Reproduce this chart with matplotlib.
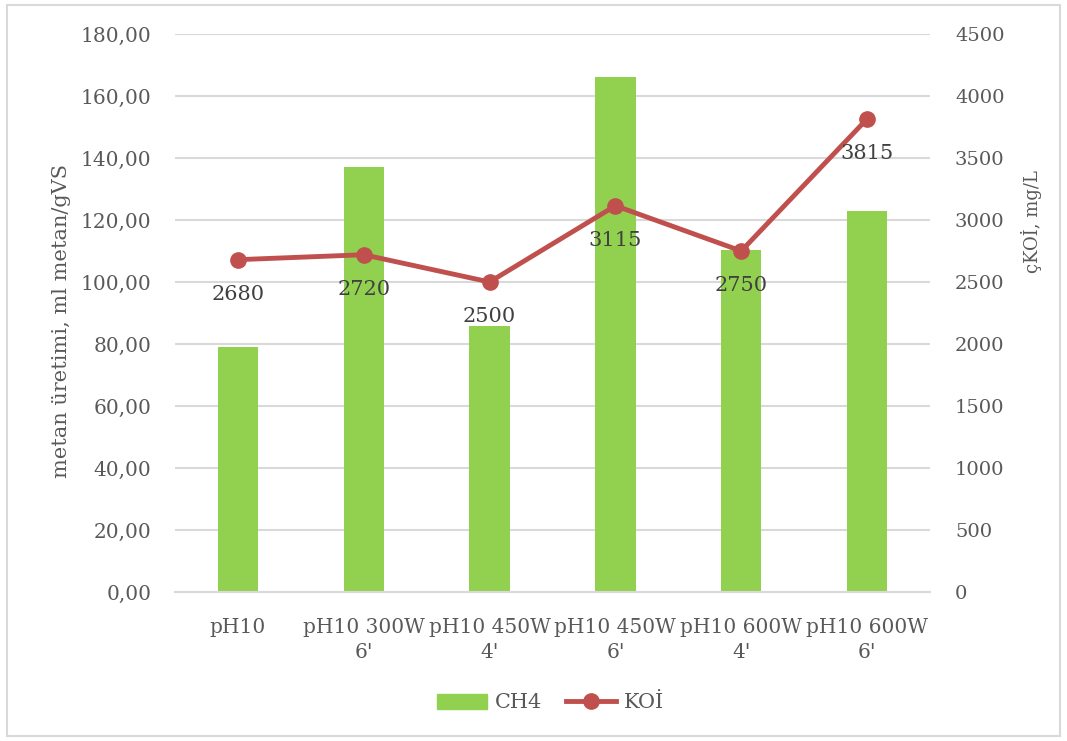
import numpy as np
import matplotlib.pyplot as plt
from matplotlib.lines import Line2D
from matplotlib.patches import Patch

categories = ["pH10", "pH10 300W\n6'", "pH10 450W\n4'", "pH10 450W\n6'", "pH10 600W\n4'", "pH10 600W\n6'"]
ch4 = [79.0, 137.2, 85.8, 166.0, 110.3, 123.0]
koi = [2680, 2720, 2500, 3115, 2750, 3815]

bar_color = '#92D050'
line_color = '#C0504D'
text_color = '#595959'
grid_color = '#D9D9D9'

plt.rcParams['font.family'] = ['DejaVu Serif']

fig = plt.figure(figsize=(10.67, 7.41), dpi=100)
ax = fig.add_axes([175 / 1067, 1 - 592 / 741, 755 / 1067, 558 / 741])
ax2 = ax.twinx()

x = np.arange(len(categories))
ax.bar(x, ch4, width=0.32, color=bar_color, zorder=2)
ax.set_xlim(-0.5, len(categories) - 0.5)
ax.set_ylim(0, 180)
ax.set_yticks(np.arange(0, 181, 20))
ax.set_yticklabels([f"{v:.2f}".replace('.', ',') for v in np.arange(0, 181, 20)])
ax.yaxis.grid(True, color=grid_color, linewidth=1.5, zorder=0)
ax.set_axisbelow(True)
ax.set_xticks(x)
ax.set_xticklabels(categories, linespacing=1.4)
ax.set_ylabel('metan üretimi, ml metan/gVS', fontsize=15, color=text_color)
ax.yaxis.set_label_coords(-0.138, 0.485)

ax2.plot(x, koi, color=line_color, linewidth=3.5, marker='o', markersize=11, zorder=3)
ax2.set_ylim(0, 4500)
ax2.set_yticks(np.arange(0, 4501, 500))
ax2.set_ylabel('çKOİ, mg/L', fontsize=13, color=text_color, rotation=90)
ax2.yaxis.set_label_coords(1.12, 0.663)
for xi, v in zip(x, koi):
    ax2.annotate(str(v), (xi, v), xytext=(0, -25), textcoords='offset points',
                 ha='center', va='center', fontsize=15, color='#404040')

for a in (ax, ax2):
    for s in a.spines.values():
        s.set_visible(False)
    a.tick_params(length=0, labelsize=14.5, colors=text_color)
ax.spines['bottom'].set_visible(True)
ax.spines['bottom'].set_color(grid_color)
ax.spines['bottom'].set_linewidth(1.5)
ax.tick_params(axis='x', pad=19)
ax.tick_params(axis='y', pad=17)
ax2.tick_params(axis='y', pad=18, labelsize=14)

handles = [Patch(color=bar_color, label='CH4'),
           Line2D([0], [0], color=line_color, linewidth=3.5, marker='o', markersize=11, label='KOİ')]
fig.legend(handles=handles, loc='center', bbox_to_anchor=(0.516, 1 - 703 / 741), ncol=2,
           frameon=False, fontsize=15, labelcolor=text_color, handlelength=2.4,
           handletextpad=0.4, columnspacing=1.1)

border = plt.Rectangle((7 / 1067, 5 / 741), 1 - 14 / 1067, 1 - 10 / 741, transform=fig.transFigure,
                       fill=False, edgecolor=grid_color, linewidth=1.5)
fig.patches.append(border)

fig.savefig('out.png', dpi=100)
